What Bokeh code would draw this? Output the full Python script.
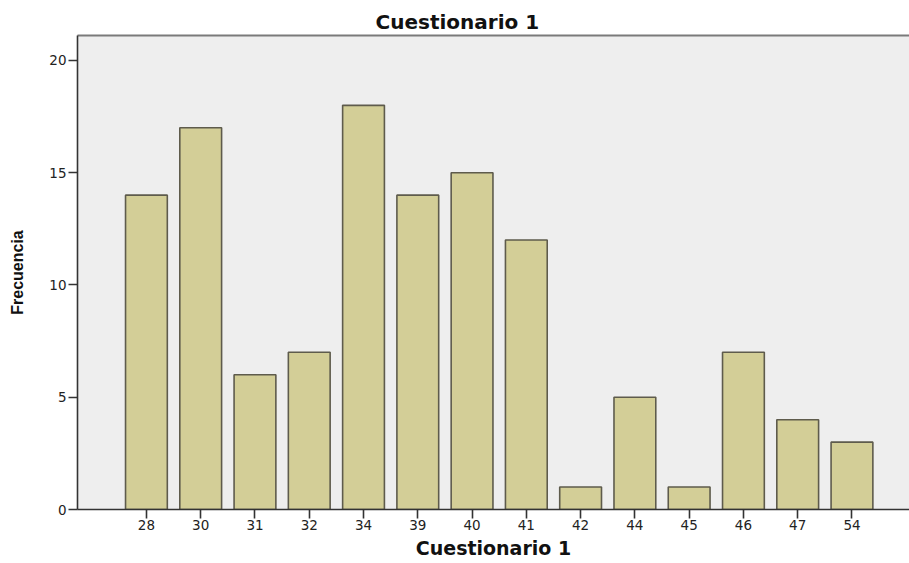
from bokeh.plotting import figure
from bokeh.models import FixedTicker, Range1d, ColumnDataSource, LinearAxis
from bokeh.embed import file_html
from bokeh.resources import INLINE

categories = ["28", "30", "31", "32", "34", "39", "40", "41", "42", "44", "45", "46", "47", "54"]
frecuencia = [14, 17, 6, 7, 18, 14, 15, 12, 1, 5, 1, 7, 4, 3]
y_ticks = [0, 5, 10, 15, 20]

xpos = list(range(len(categories)))
src = ColumnDataSource(dict(x=xpos, top=frecuencia, cat=categories))

p = figure(width=909, height=563, output_backend="svg", toolbar_location=None,
           x_range=Range1d(-1.27, 14.06), y_range=Range1d(0, 21.11),
           min_border_left=77, min_border_right=0, min_border_bottom=54, min_border_top=35)

xa = p.xaxis[0]
ya = p.yaxis[0]

p.title.text = "Cuestionario 1"
p.title.align = "left"
p.title.offset = 298
p.title.text_font = "DejaVu Sans"
p.title.text_font_style = "bold"
p.title.text_font_size = "20px"
p.title.text_color = "#111111"
p.title.standoff = 4

p.vbar(x="x", top="top", width=0.77, bottom=0, source=src,
       fill_color="#D3CE97", line_color="#5E5B4C", line_width=1.6)

p.background_fill_color = "#EEEEEE"
p.border_fill_color = "white"
p.outline_line_color = None
p.xgrid.visible = False
p.ygrid.visible = False

top_axis = LinearAxis(ticker=FixedTicker(ticks=[]), axis_line_color="#7A7A7A",
                      axis_line_width=2, major_tick_line_color=None,
                      minor_tick_line_color=None, major_label_standoff=0,
                      major_tick_out=0, major_tick_in=0,
                      major_label_text_font_size="0px", major_label_text_color=None)
p.add_layout(top_axis, "above")

xa.ticker = FixedTicker(ticks=xpos)
xa.major_label_overrides = {i: c for i, c in zip(xpos, categories)}
ya.ticker = FixedTicker(ticks=y_ticks)

for ax in (xa, ya):
    ax.axis_line_color = "#333333"
    ax.axis_line_width = 1.6
    ax.major_tick_line_color = "#333333"
    ax.major_tick_line_width = 1.6
    ax.major_tick_in = 0
    ax.major_tick_out = 9
    ax.minor_tick_line_color = None
    ax.major_label_text_font = "DejaVu Sans"
    ax.major_label_text_font_size = "13.5px"
    ax.major_label_text_color = "#222222"
    ax.axis_label_text_font_style = "bold"
    ax.axis_label_text_color = "#111111"

xa.major_label_standoff = 1
xa.axis_label = "Cuestionario 1"
xa.axis_label_text_font = "DejaVu Sans"
xa.axis_label_text_font_size = "19px"
xa.axis_label_standoff = 4

ya.axis_label = "Frecuencia"
ya.axis_label_text_font = "Liberation Sans"
ya.axis_label_text_font_size = "16px"
ya.axis_label_standoff = 20
ya.major_label_standoff = 2

open("out.html", "w").write(file_html(p, INLINE))
